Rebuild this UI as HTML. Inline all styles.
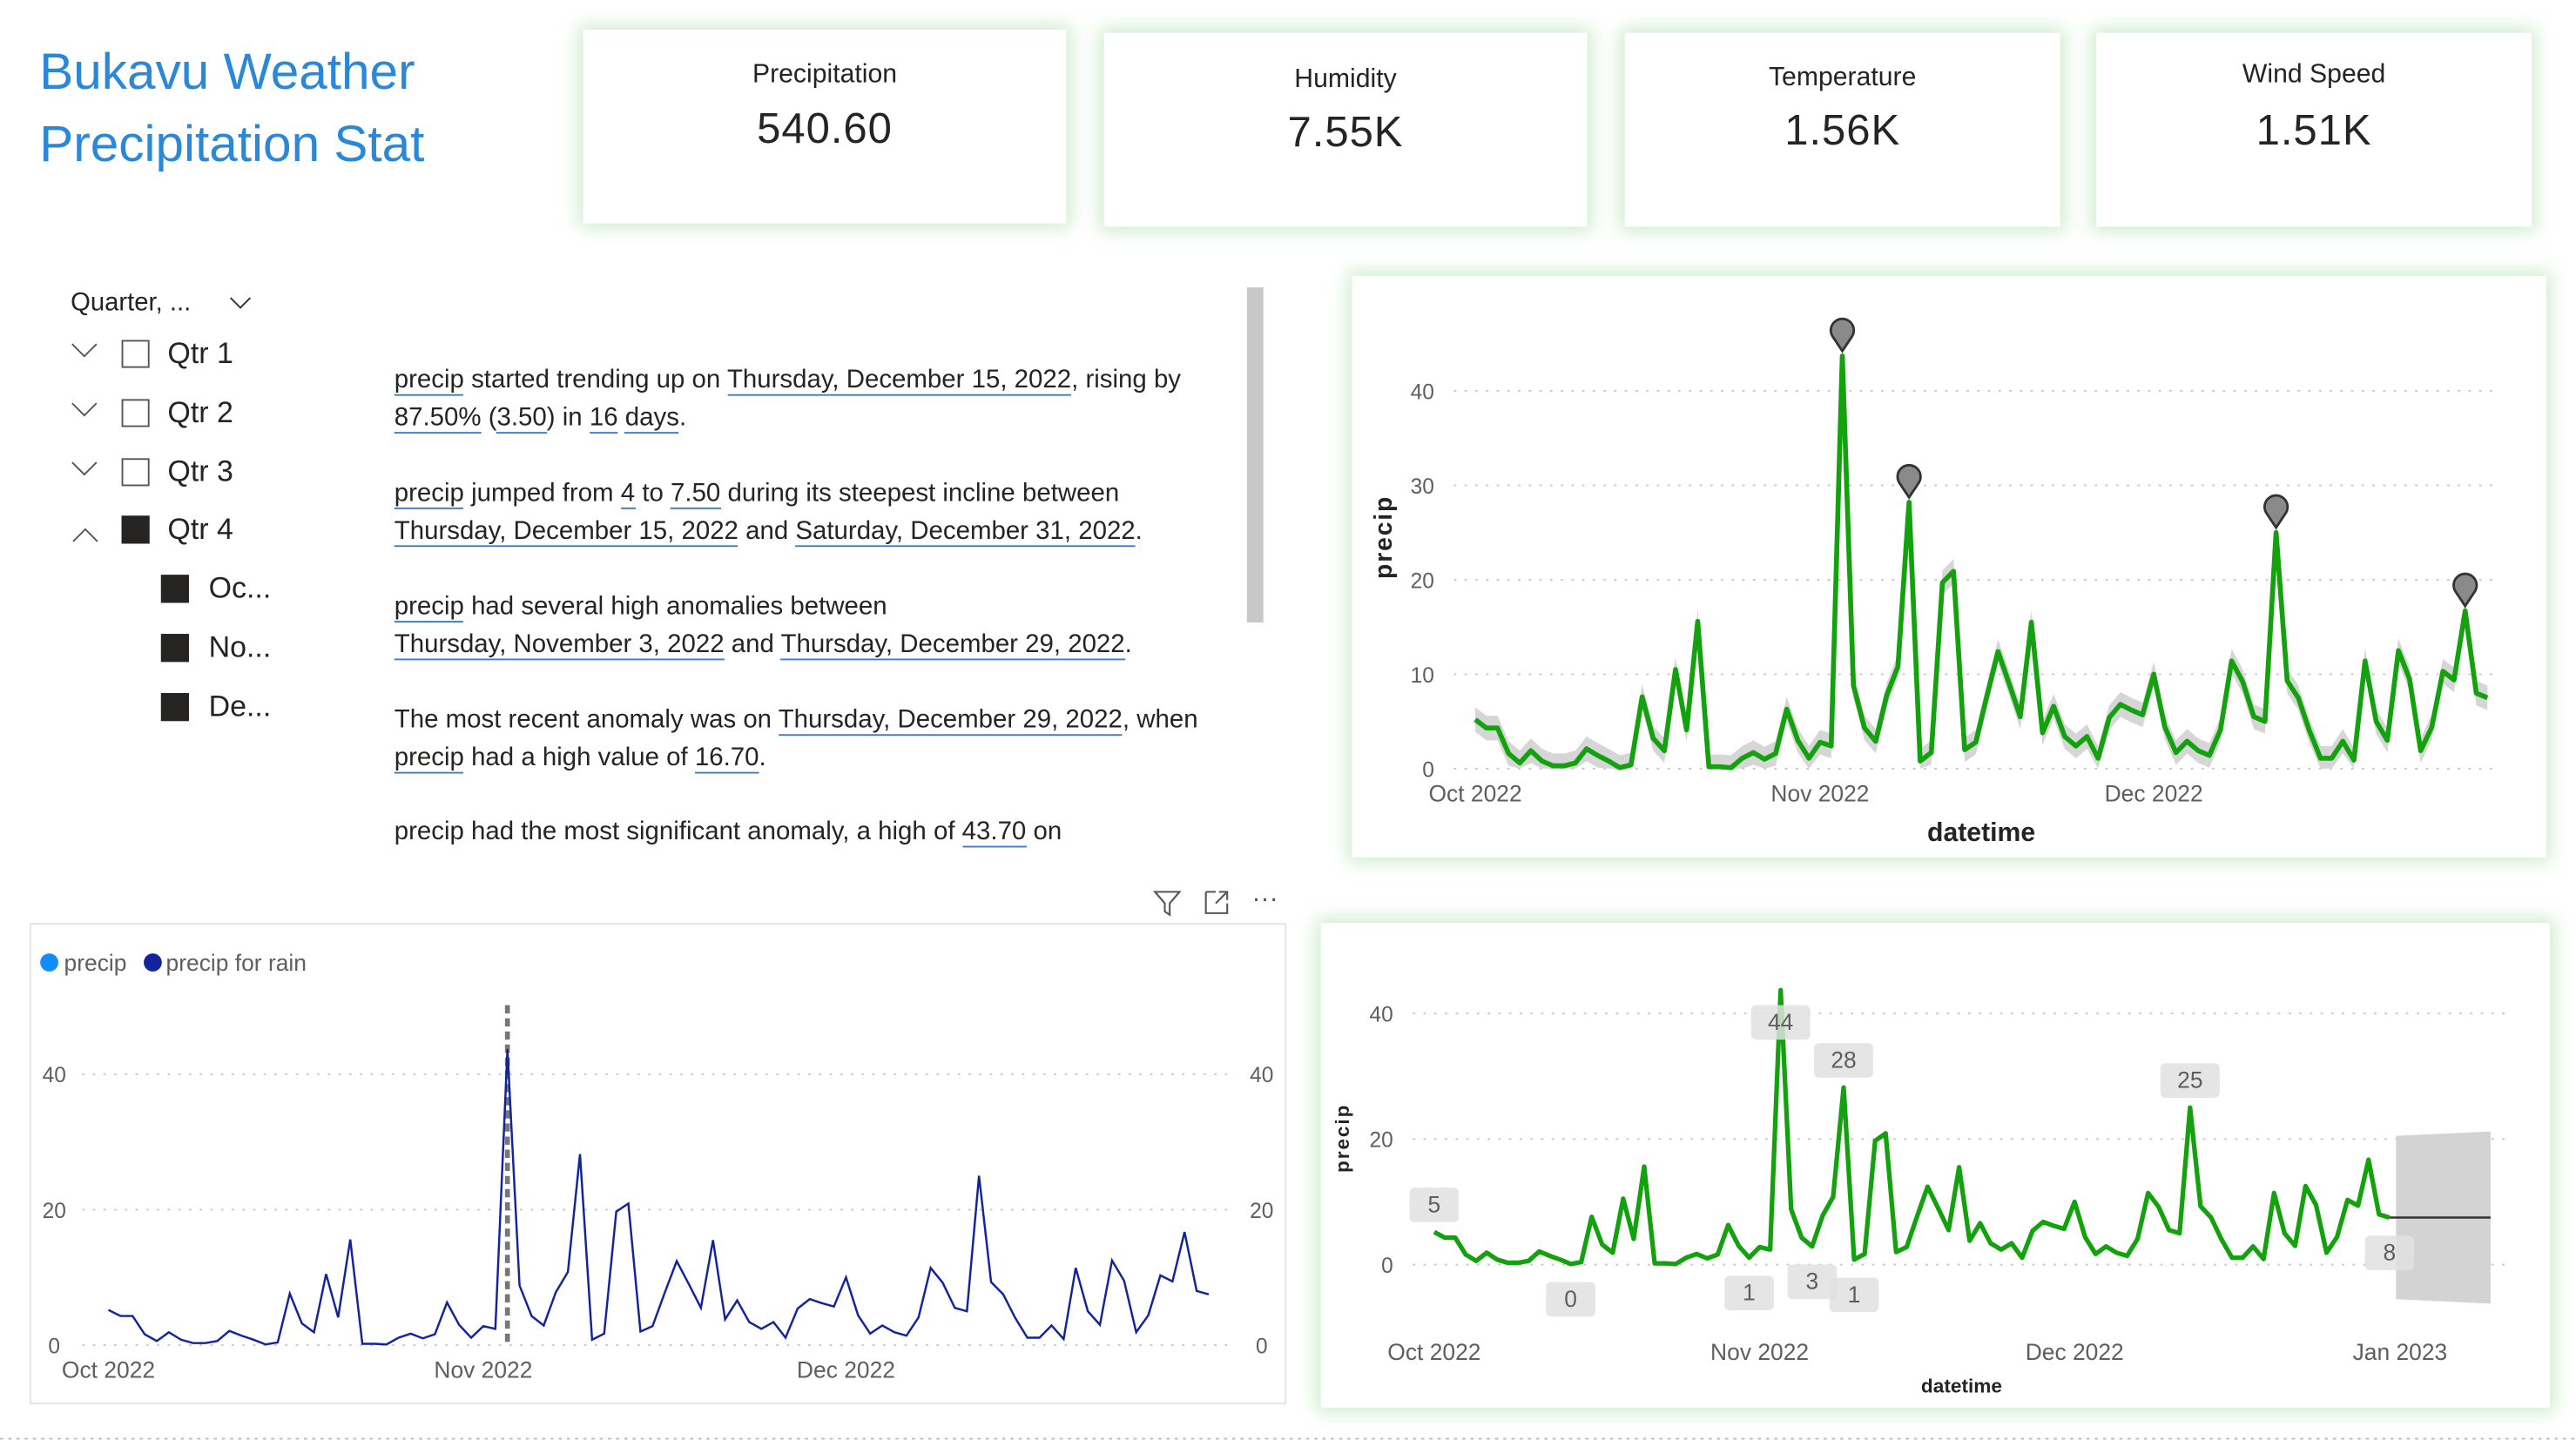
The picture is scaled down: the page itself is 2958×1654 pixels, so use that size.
<!DOCTYPE html>
<html><head><meta charset="utf-8">
<style>
html,body{margin:0;padding:0;background:#fff;overflow:hidden;width:2958px;height:1654px}
#page{position:absolute;left:0;top:0;width:1568px;height:877px;transform:scale(1.88648);transform-origin:0 0;font-family:"Liberation Sans",sans-serif;color:#252423}
.abs{position:absolute}
.card{position:absolute;background:#fff;box-shadow:0 0 10px 3px rgba(120,200,120,0.35)}
.kpi-label{position:absolute;left:0;right:0;text-align:center;font-size:16px;color:#252423}
.kpi-value{position:absolute;left:0;right:0;text-align:center;font-size:26px;color:#252423;letter-spacing:0.5px}
.nar{position:absolute;left:240px;width:505px;font-size:15.6px;line-height:23px;color:#252423}
.u{border-bottom:1.3px solid #3a7bd5}
.row{position:absolute;font-size:18px;color:#252423}
.box{position:absolute;width:17px;height:17px;border:1.3px solid #555;box-sizing:border-box}
.fill{background:#252423;border-color:#252423}
</style></head><body>
<div id="page">
  <div class="abs" style="left:24px;top:22px;font-size:31px;line-height:44px;color:#2b88d8">Bukavu Weather<br>Precipitation Stat</div>

  <div class="card" style="left:355px;top:18px;width:294px;height:118px">
    <div class="kpi-label" style="top:19px">Precipitation</div><div class="kpi-value" style="top:45px">540.60</div></div>
  <div class="card" style="left:672px;top:20px;width:294px;height:118px">
    <div class="kpi-label" style="top:20px">Humidity</div><div class="kpi-value" style="top:45px">7.55K</div></div>
  <div class="card" style="left:989px;top:20px;width:265px;height:118px">
    <div class="kpi-label" style="top:19px">Temperature</div><div class="kpi-value" style="top:44px">1.56K</div></div>
  <div class="card" style="left:1276px;top:20px;width:265px;height:118px">
    <div class="kpi-label" style="top:17px">Wind Speed</div><div class="kpi-value" style="top:44px">1.51K</div></div>

  <div>
    <div class="row" style="left:43px;top:176px;font-size:15.5px">Quarter, ... <span style="display:inline-block;margin-left:18px;width:8px;height:8px;border-right:1.5px solid #333;border-bottom:1.5px solid #333;transform:rotate(45deg) translateY(-4px)"></span></div>
    <div class="row" style="left:43px;top:205px"><span style="display:inline-block;width:10px;height:10px;border-right:1.4px solid #555;border-bottom:1.4px solid #555;transform:rotate(45deg) translate(-2px,-6px)"></span></div>
    <div class="box" style="left:74px;top:207px"></div><div class="row" style="left:102px;top:205px">Qtr 1</div>
    <div class="row" style="left:43px;top:241px"><span style="display:inline-block;width:10px;height:10px;border-right:1.4px solid #555;border-bottom:1.4px solid #555;transform:rotate(45deg) translate(-2px,-6px)"></span></div>
    <div class="box" style="left:74px;top:243px"></div><div class="row" style="left:102px;top:241px">Qtr 2</div>
    <div class="row" style="left:43px;top:277px"><span style="display:inline-block;width:10px;height:10px;border-right:1.4px solid #555;border-bottom:1.4px solid #555;transform:rotate(45deg) translate(-2px,-6px)"></span></div>
    <div class="box" style="left:74px;top:279px"></div><div class="row" style="left:102px;top:277px">Qtr 3</div>
    <div class="row" style="left:45px;top:316px"><span style="display:inline-block;width:10px;height:10px;border-left:1.4px solid #555;border-top:1.4px solid #555;transform:rotate(45deg) translate(3px,1px)"></span></div>
    <div class="box fill" style="left:74px;top:314px"></div><div class="row" style="left:102px;top:312px">Qtr 4</div>
    <div class="box fill" style="left:98px;top:350px"></div><div class="row" style="left:127px;top:348px">Oc...</div>
    <div class="box fill" style="left:98px;top:386px"></div><div class="row" style="left:127px;top:384px">No...</div>
    <div class="box fill" style="left:98px;top:422px"></div><div class="row" style="left:127px;top:420px">De...</div>
  </div>

  <div>
    <div class="nar" style="top:220px"><span class="u">precip</span> started trending up on <span class="u">Thursday, December 15, 2022</span>, rising by <span class="u">87.50%</span> (<span class="u">3.50</span>) in <span class="u">16</span> <span class="u">days</span>.</div>
    <div class="nar" style="top:289px"><span class="u">precip</span> jumped from <span class="u">4</span> to <span class="u">7.50</span> during its steepest incline between<br><span class="u">Thursday, December 15, 2022</span> and <span class="u">Saturday, December 31, 2022</span>.</div>
    <div class="nar" style="top:358px"><span class="u">precip</span> had several high anomalies between<br><span class="u">Thursday, November 3, 2022</span> and <span class="u">Thursday, December 29, 2022</span>.</div>
    <div class="nar" style="top:427px">The most recent anomaly was on <span class="u">Thursday, December 29, 2022</span>, when <span class="u">precip</span> had a high value of <span class="u">16.70</span>.</div>
    <div class="nar" style="top:495px">precip had the most significant anomaly, a high of <span class="u">43.70</span> on</div>
    <div class="abs" style="left:759px;top:175px;width:10px;height:204px;background:#c8c8c8"></div>
  </div>

  <div class="card" style="left:823px;top:168px;width:727px;height:354px"></div>
  <div class="card" style="left:804px;top:562px;width:748px;height:295px"></div>
  <div class="abs" style="left:18px;top:562px;width:765px;height:293px;border:1px solid #e3e3e3;box-sizing:border-box"></div>

  <svg class="abs" style="left:0;top:0" width="1568" height="877" viewBox="0 0 1568 877" id="charts">
    <g id="g1"></g><g id="g2"></g><g id="g3"></g>
    <line x1="0" y1="876" x2="1568" y2="876" stroke="#bbb" stroke-dasharray="2,3" stroke-width="1"/>
  </svg>
</div>
<script>
const precip = [5.2,4.3,4.3,1.6,0.6,1.9,0.8,0.3,0.3,0.6,2.1,1.4,0.8,0.1,0.4,7.6,3.2,1.9,10.5,4.1,15.6,0.2,0.2,0.1,1.1,1.7,1.0,1.6,6.3,3.0,1.1,
2.8,2.4,43.7,8.8,4.3,2.9,7.8,10.8,28.2,0.8,1.7,19.7,20.9,2.0,2.8,7.7,12.4,9.0,5.5,15.5,3.8,6.6,3.4,2.4,3.4,1.1,5.4,6.8,6.2,5.7,
10.0,4.4,1.7,2.9,1.9,1.4,4.1,11.4,9.2,5.5,5.0,25.0,9.3,7.5,4.0,1.1,1.1,2.9,0.9,11.4,5.0,3.0,12.5,9.5,1.9,4.4,10.3,9.4,16.7,8.0,7.5];
const yTicks = [0,10,20,30,40];
const yTicks2 = [0,20,40];
const monthLabels = ["Oct 2022","Nov 2022","Dec 2022"];
const monthStarts = [0,31,61];
const anomalyIdx = [33,39,72,89];
const dataLabelIdx = [0,13,30,33,36,39,40,72,91];
const dataLabelText = ["5","0","1","44","3","28","1","25","8"];
const dataLabelBelow = [false,true,true,false,true,false,true,false,true];
const forecastValue = 7.5, forecastLow = -5.5, forecastHigh = 20.5;

const NS="http://www.w3.org/2000/svg";
function mk(parent,tag,attrs,text){const e=document.createElementNS(NS,tag);for(const k in attrs)e.setAttribute(k,attrs[k]);if(text!==undefined)e.textContent=text;parent.appendChild(e);return e;}
const F='"Liberation Sans",sans-serif';

// Chart 1: anomaly chart
(function(){
  const g=document.getElementById('g1');
  const x=i=>898+i*6.77, y=v=>468-v*5.75;
  yTicks.forEach(t=>{
    const l=mk(g,'line',{x1:885,x2:1522,y1:y(t),y2:y(t),stroke:'#c8c8c8','stroke-dasharray':'1.5,5'});
    
    
    const tx=mk(g,'text',{x:873,y:y(t)+5,'text-anchor':'end','font-size':13,fill:'#605e5c','font-family':F},t);
    
    
  });
  monthLabels.forEach((m,k)=>{
    const tx=mk(g,'text',{x:x(monthStarts[k]),y:488,'text-anchor':'middle','font-size':14,fill:'#605e5c','font-family':F},m);
    
    
  });
  let band='';
  precip.forEach((v,i)=>{band+=(i?'L':'M')+x(i)+','+y(v+1.3);});
  for(let i=precip.length-1;i>=0;i--)band+='L'+x(i)+','+y(Math.max(0,precip[i]-1.3));
  const b=mk(g,'path',{d:band+'Z',fill:'#d6d6d6'});
  
  
  const d=precip.map((v,i)=>(i?'L':'M')+x(i)+','+y(v)).join('');
  const p=mk(g,'path',{d:d,fill:'none',stroke:'#13a10e','stroke-width':3,'stroke-linejoin':'round'});
  
  
  anomalyIdx.forEach(i=>{
    const cx=x(i), cy=y(precip[i])-14;
    const m=mk(g,'path',{d:`M${cx},${cy+11} L${cx-6},${cy+2} A7,7 0 1 1 ${cx+6},${cy+2} Z`,fill:'#8a8a8a',stroke:'#333','stroke-width':1.5});
    
    
  });
  const yt=mk(g,'text',{x:0,y:0,transform:'translate(847,327) rotate(-90)','text-anchor':'middle','font-size':15,'font-weight':'bold',fill:'#252423','font-family':F,'letter-spacing':'1'},'precip');
  
  
  const xt=mk(g,'text',{x:1206,y:512,'text-anchor':'middle','font-size':16,'font-weight':'bold',fill:'#252423','font-family':F},'datetime');
  
  
})();

// Chart 2: precip for rain
(function(){
  const g=document.getElementById('g2');
  const x=i=>66+i*7.36, y=v=>819-v*4.125;
  yTicks2.forEach(t=>{
    const l=mk(g,'line',{x1:50,x2:752,y1:y(t),y2:y(t),stroke:'#c8c8c8','stroke-dasharray':'1.5,5'});
    
    
    const a=mk(g,'text',{x:33,y:y(t)+5,'text-anchor':'middle','font-size':13,fill:'#605e5c','font-family':F},t);
    
    
    const c=mk(g,'text',{x:768,y:y(t)+5,'text-anchor':'middle','font-size':13,fill:'#605e5c','font-family':F},t);
    
    
  });
  monthLabels.forEach((m,k)=>{
    const tx=mk(g,'text',{x:x(monthStarts[k]),y:839,'text-anchor':'middle','font-size':14,fill:'#605e5c','font-family':F},m);
    
    
  });
  const vx=x(anomalyIdx[0]);
  const vl=mk(g,'line',{x1:vx,x2:vx,y1:612,y2:819,stroke:'#777','stroke-width':3,'stroke-dasharray':'5,3'});
  
  
  const d=precip.map((v,i)=>(i?'L':'M')+x(i)+','+y(v)).join('');
  const p=mk(g,'path',{d:d,fill:'none',stroke:'#12239e','stroke-width':1.3});
  
  
  const l1=mk(g,'circle',{cx:30,cy:586,r:5.5,fill:'#118dff'});
  
  
  const t1=mk(g,'text',{x:39,y:591,'font-size':14,fill:'#605e5c','font-family':F},'precip');
  
  
  const l2=mk(g,'circle',{cx:93,cy:586,r:5.5,fill:'#12239e'});
  
  
  const t2=mk(g,'text',{x:101,y:591,'font-size':14,fill:'#605e5c','font-family':F},'precip for rain');
  
  
  const fi=mk(g,'path',{d:'M703,543 L718,543 L712,550 L712,557 L709,555 L709,550 Z',fill:'none',stroke:'#555','stroke-width':1.1});
  
  
  const fo=mk(g,'path',{d:'M734,543 L734,556 L747,556 L747,550 M740,543 L734,543 M740,550 L747,543 M742,543 L747,543 L747,548',fill:'none',stroke:'#555','stroke-width':1.1});
  
  
  const mo=mk(g,'text',{x:770,y:552,'text-anchor':'middle','font-size':16,fill:'#555','font-family':F},'···');
  
  
})();

// Chart 3: forecast
(function(){
  const g=document.getElementById('g3');
  const x=i=>873+i*6.39, y=v=>770-v*3.825;
  yTicks2.forEach(t=>{
    const l=mk(g,'line',{x1:860,x2:1526,y1:y(t),y2:y(t),stroke:'#c8c8c8','stroke-dasharray':'1.5,5'});
    
    
    const a=mk(g,'text',{x:848,y:y(t)+5,'text-anchor':'end','font-size':13,fill:'#605e5c','font-family':F},t);
    
    
  });
  const mL=monthLabels.concat(["Jan 2023"]), mS=monthStarts.concat([92]);
  mL.forEach((m,k)=>{
    const tx=mk(g,'text',{x:x(mS[k]),y:828,'text-anchor':'middle','font-size':14,fill:'#605e5c','font-family':F},m);
    
    
  });
  const n=precip.length, fx0=x(n-1)+4, fx1=1516;
  const band=mk(g,'path',{d:`M${fx0},${y(forecastHigh)} L${fx1},${y(forecastHigh+0.7)} L${fx1},${y(forecastLow-0.7)} L${fx0},${y(forecastLow)} Z`,fill:'#d3d3d3'});
  
  
  const fl=mk(g,'line',{x1:x(n-1),x2:fx1,y1:y(forecastValue),y2:y(forecastValue),stroke:'#333','stroke-width':1.3});
  
  
  const d=precip.map((v,i)=>(i?'L':'M')+x(i)+','+y(v)).join('');
  const p=mk(g,'path',{d:d,fill:'none',stroke:'#13a10e','stroke-width':2.8,'stroke-linejoin':'round'});
  
  
  dataLabelIdx.forEach((i,k)=>{
    const cx=x(i), cy=dataLabelBelow[k]? y(precip[i])+21 : Math.max(622, y(precip[i])-17);
    const w=dataLabelText[k].length>1?36:30;
    const r=mk(g,'rect',{x:cx-w/2,y:cy-10,width:w,height:21,rx:3,fill:'#e0e0e0','fill-opacity':0.85});
    
    
    const t=mk(g,'text',{x:cx,y:cy+5,'text-anchor':'middle','font-size':14,fill:'#605e5c','font-family':F},dataLabelText[k]);
    
    
  });
  const yt=mk(g,'text',{x:0,y:0,transform:'translate(821,693) rotate(-90)','text-anchor':'middle','font-size':12,'font-weight':'bold',fill:'#252423','font-family':F,'letter-spacing':'1'},'precip');
  
  
  const xt=mk(g,'text',{x:1194,y:848,'text-anchor':'middle','font-size':12,'font-weight':'bold',fill:'#252423','font-family':F},'datetime');
  
  
})();
</script>
</body></html>
